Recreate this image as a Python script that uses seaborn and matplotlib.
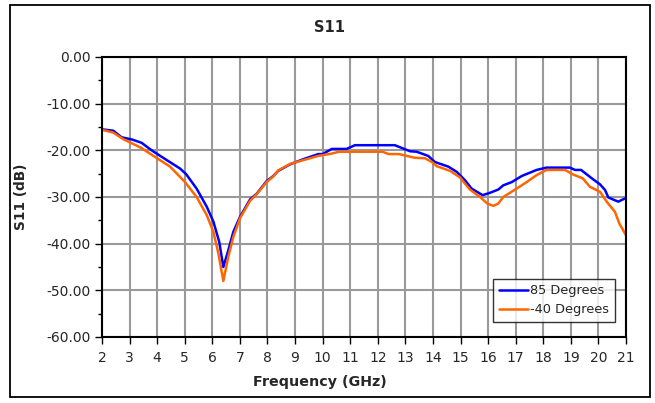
import numpy as np
import pandas as pd
import matplotlib
matplotlib.use("Agg")
import matplotlib.pyplot as plt
import seaborn as sns
from matplotlib.patches import Rectangle
from matplotlib.ticker import MultipleLocator, FormatStrFormatter

# --- data ---
freq_85 = [2.0, 2.41, 2.71, 3.1, 3.44, 3.8, 4.35, 4.83, 5.05, 5.43, 5.8, 6.04, 6.25, 6.4,
           6.58, 6.76, 7.0, 7.37, 7.61, 7.97, 8.21, 8.39, 8.82, 9.3, 9.84, 10.0, 10.33,
           10.87, 11.17, 12.08, 12.62, 13.17, 13.41, 13.83, 14.07, 14.56, 14.86, 15.16,
           15.4, 15.8, 16.07, 16.37, 16.55, 16.86, 17.22, 17.76, 18.12, 18.97, 19.15,
           19.37, 19.76, 20.06, 20.24, 20.36, 20.72, 21.0]
s11_85 = [-15.5, -15.8, -17.2, -17.7, -18.4, -20.0, -22.1, -23.9, -25.1, -28.2, -32.1, -35.3,
          -39.6, -45.0, -41.4, -37.5, -34.3, -30.5, -29.3, -26.6, -25.5, -24.4, -23.0, -21.9,
          -20.8, -20.8, -19.7, -19.7, -18.9, -18.9, -18.9, -20.2, -20.3, -21.2, -22.5, -23.5,
          -24.6, -26.4, -28.2, -29.6, -29.1, -28.4, -27.5, -26.8, -25.5, -24.2, -23.7, -23.7,
          -24.2, -24.2, -26.0, -27.3, -28.5, -30.1, -31.0, -30.2]

freq_m40 = [2.0, 2.41, 2.77, 3.4, 3.92, 4.47, 5.01, 5.43, 5.8, 6.04, 6.22, 6.4, 6.58, 6.76,
            7.0, 7.37, 7.61, 7.97, 8.21, 8.39, 8.82, 9.3, 9.84, 10.33, 10.6, 12.17, 12.39,
            12.77, 13.05, 13.35, 13.71, 13.96, 14.14, 14.62, 14.98, 15.34, 15.71, 15.97,
            16.19, 16.37, 16.55, 16.98, 17.4, 17.76, 18.12, 18.79, 19.09, 19.43, 19.69,
            20.06, 20.3, 20.6, 20.76, 21.0]
s11_m40 = [-15.6, -16.2, -17.6, -19.4, -21.4, -23.5, -26.8, -30.0, -33.9, -37.5, -42.1, -48.0,
           -42.8, -38.6, -34.6, -30.8, -29.4, -26.8, -25.6, -24.3, -22.9, -22.1, -21.2, -20.7,
           -20.3, -20.3, -20.8, -20.8, -21.2, -21.6, -21.7, -22.5, -23.4, -24.4, -25.8, -28.4,
           -30.0, -31.4, -31.9, -31.4, -30.0, -28.4, -26.8, -25.3, -24.2, -24.2, -25.2, -26.0,
           -27.8, -28.9, -31.0, -33.2, -35.7, -38.2]

series_names = ["85 Degrees", "-40 Degrees"]
series_colors = ["#0000FF", "#FF6600"]
x_ticks = list(range(2, 22))
y_ticks = [0, -10, -20, -30, -40, -50, -60]

df = pd.concat([
    pd.DataFrame({"Frequency": freq_85, "S11": s11_85, "Series": series_names[0]}),
    pd.DataFrame({"Frequency": freq_m40, "S11": s11_m40, "Series": series_names[1]}),
], ignore_index=True)

sns.set_style("white")
plt.rcParams["font.family"] = ["DejaVu Sans"]

W, H = 655, 403
fig = plt.figure(figsize=(W / 100, H / 100), dpi=100)
ax = fig.add_axes([102 / W, 1 - 337 / H, (626 - 102) / W, (337 - 57) / H])

# outer frame
fig.patches.append(Rectangle((10 / W, 1 - 397 / H), 640 / W, 392 / H, transform=fig.transFigure,
                             fill=False, edgecolor="black", linewidth=1.3))

ax.set_xlim(2, 21)
ax.set_ylim(-60, 0)
ax.set_xticks(x_ticks)
ax.set_yticks(y_ticks)
ax.yaxis.set_minor_locator(MultipleLocator(5))
ax.yaxis.set_major_formatter(FormatStrFormatter("%.2f"))
ax.grid(True, which="major", color="#999999", linewidth=1.5)
ax.set_axisbelow(True)

sns.lineplot(data=df, x="Frequency", y="S11", hue="Series", palette=series_colors,
             hue_order=series_names, linewidth=1.8, ax=ax, sort=False, estimator=None)

for s in ax.spines.values():
    s.set_color("black")
    s.set_linewidth(1.5)
ax.tick_params(axis="both", which="both", direction="out", length=5, width=1,
               color="black", labelsize=10, left=True, bottom=True)
ax.tick_params(axis="y", which="minor", length=3)
ax.tick_params(axis="x", pad=5)
ax.tick_params(axis="y", pad=3)

ax.set_xlabel("Frequency (GHz)", fontsize=10.3, fontweight="bold")
ax.xaxis.set_label_coords((320 - 102) / (626 - 102), -0.135)
ax.set_ylabel("S11 (dB)", fontsize=9.8, fontweight="bold")
ax.yaxis.set_label_coords((28 - 102) / (626 - 102), 0.5)

fig.text(330 / W, 1 - 27 / H, "S11", ha="center", va="center", fontsize=10.5, fontweight="bold")

leg = ax.legend(loc="lower right", bbox_to_anchor=((615 - 102) / 524, (337 - 322) / 280),
                frameon=True, fancybox=False, fontsize=9.3, handlelength=2.3,
                handletextpad=0.15, borderpad=0.45, labelspacing=0.45, borderaxespad=0)
leg.get_frame().set_edgecolor("black")
leg.get_frame().set_linewidth(1.0)
leg.set_title(None)

fig.savefig("out.png", dpi=100)
